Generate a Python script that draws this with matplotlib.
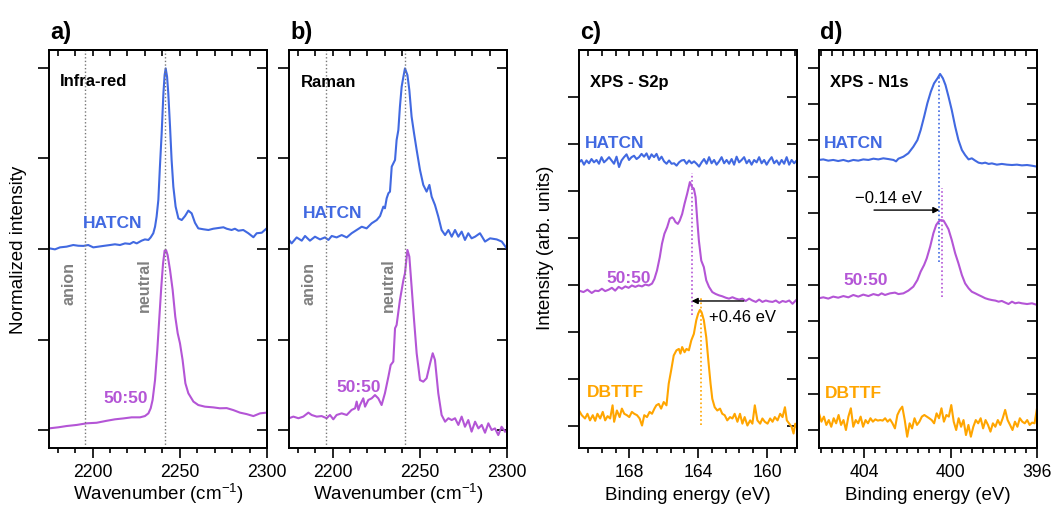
import numpy as np
import matplotlib
matplotlib.use("Agg")
import matplotlib.pyplot as plt
from matplotlib.ticker import MultipleLocator, FixedLocator

plt.rcParams['font.family'] = ['Liberation Sans', 'DejaVu Sans']
plt.rcParams['mathtext.fontset'] = 'custom'
plt.rcParams['mathtext.rm'] = 'Liberation Sans'
plt.rcParams['mathtext.it'] = 'Liberation Sans:italic'
plt.rcParams['axes.linewidth'] = 1.4

# ---------------- data ----------------
# a) Infra-red
ir_hatcn_x = [2175.0, 2178.4, 2181.3, 2185.1, 2188.9, 2191.8, 2194.7, 2197.5, 2200.4, 2203.3,
              2206.2, 2210.0, 2212.8, 2215.7, 2218.6, 2221.4, 2223.4, 2225.3, 2228.1, 2230.0,
              2232.0, 2233.3, 2234.8, 2235.8, 2236.7, 2237.7, 2238.6, 2239.6, 2240.6, 2241.3,
              2241.9, 2242.7, 2243.4, 2244.4, 2245.3, 2246.3, 2247.6, 2249.2, 2251.1, 2253.0,
              2254.9, 2256.8, 2258.7, 2260.6, 2263.5, 2266.4, 2269.2, 2272.1, 2275.0, 2276.9,
              2279.7, 2281.6, 2283.6, 2286.4, 2289.3, 2292.2, 2294.1, 2297.0, 2299.8]
ir_hatcn_y = [1.004, 0.998, 1.009, 1.013, 1.022, 1.018, 1.017, 1.022, 1.009, 1.013,
              1.017, 1.022, 1.026, 1.022, 1.031, 1.028, 1.039, 1.031, 1.046, 1.053,
              1.050, 1.064, 1.087, 1.123, 1.179, 1.271, 1.455, 1.639, 1.860, 1.961,
              1.998, 1.952, 1.860, 1.676, 1.492, 1.344, 1.234, 1.169, 1.160, 1.182,
              1.212, 1.197, 1.145, 1.114, 1.109, 1.105, 1.112, 1.116, 1.120, 1.112,
              1.105, 1.112, 1.101, 1.105, 1.087, 1.065, 1.087, 1.090, 1.114]
ir_mix_x = [2175.0, 2180.4, 2185.1, 2190.9, 2196.6, 2202.3, 2208.1, 2212.8, 2217.6, 2222.4,
            2227.2, 2230.0, 2232.0, 2233.3, 2234.4, 2235.8, 2237.1, 2238.3, 2239.4, 2240.4,
            2241.3, 2242.1, 2243.0, 2244.4, 2245.9, 2247.4, 2248.8, 2250.1, 2251.6, 2253.2,
            2254.9, 2257.8, 2260.6, 2264.4, 2269.2, 2273.0, 2276.9, 2280.7, 2284.5, 2288.3,
            2292.2, 2296.0, 2299.8]
ir_mix_y = [0.009, 0.015, 0.022, 0.028, 0.037, 0.040, 0.051, 0.059, 0.064, 0.070,
            0.070, 0.077, 0.092, 0.120, 0.166, 0.276, 0.442, 0.626, 0.792, 0.921,
            0.991, 0.994, 0.967, 0.884, 0.774, 0.626, 0.534, 0.479, 0.387, 0.258,
            0.203, 0.157, 0.138, 0.129, 0.125, 0.120, 0.121, 0.110, 0.096, 0.088,
            0.077, 0.092, 0.096]

# b) Raman
ra_hatcn_x = [2175.0, 2176.5, 2179.4, 2182.3, 2184.2, 2187.0, 2189.9, 2192.8, 2195.6, 2197.6,
              2199.5, 2202.3, 2205.2, 2208.1, 2210.9, 2213.8, 2216.7, 2219.5, 2222.4, 2225.3,
              2227.2, 2229.1, 2230.0, 2231.0, 2232.0, 2232.9, 2233.9, 2235.8, 2236.7, 2237.7,
              2238.6, 2239.6, 2240.6, 2241.5, 2242.9, 2244.0, 2245.3, 2246.7, 2248.2, 2250.1,
              2252.0, 2253.9, 2255.5, 2256.8, 2258.7, 2260.6, 2262.5, 2264.5, 2266.4, 2268.3,
              2270.2, 2272.1, 2274.0, 2275.9, 2277.8, 2279.7, 2281.7, 2284.5, 2287.4, 2290.3,
              2294.1, 2297.0, 2299.8]
ra_hatcn_y = [1.050, 1.031, 1.064, 1.046, 1.072, 1.046, 1.068, 1.053, 1.064, 1.050,
              1.072, 1.064, 1.077, 1.064, 1.087, 1.105, 1.123, 1.114, 1.142, 1.160,
              1.182, 1.234, 1.225, 1.280, 1.308, 1.317, 1.455, 1.492, 1.602, 1.657,
              1.786, 1.897, 1.952, 1.998, 1.961, 1.878, 1.731, 1.639, 1.547, 1.437,
              1.354, 1.317, 1.354, 1.289, 1.243, 1.179, 1.105, 1.077, 1.105, 1.068,
              1.105, 1.068, 1.096, 1.050, 1.087, 1.059, 1.068, 1.087, 1.041, 1.059,
              1.053, 1.041, 1.004]
ra_mix_x = [2175.0, 2177.5, 2180.4, 2183.2, 2186.1, 2188.0, 2190.9, 2193.7, 2196.6, 2198.5,
            2200.4, 2202.3, 2205.2, 2208.1, 2210.9, 2212.9, 2213.8, 2214.8, 2215.7, 2217.6,
            2218.6, 2220.5, 2222.4, 2224.3, 2226.2, 2228.1, 2230.0, 2232.0, 2233.3, 2234.8,
            2235.8, 2236.7, 2238.6, 2240.6, 2241.5, 2242.9, 2244.0, 2245.3, 2246.7, 2248.2,
            2250.1, 2252.0, 2253.9, 2255.9, 2257.4, 2258.7, 2260.6, 2262.5, 2264.5, 2266.4,
            2268.3, 2270.2, 2272.1, 2274.0, 2275.9, 2277.8, 2279.7, 2281.7, 2283.6, 2285.5,
            2287.4, 2289.3, 2291.2, 2293.1, 2295.0, 2296.9, 2298.9]
ra_mix_y = [0.065, 0.074, 0.065, 0.074, 0.096, 0.083, 0.074, 0.077, 0.065, 0.083,
            0.059, 0.083, 0.092, 0.083, 0.111, 0.120, 0.157, 0.111, 0.138, 0.175,
            0.129, 0.166, 0.175, 0.193, 0.175, 0.138, 0.203, 0.295, 0.359, 0.378,
            0.562, 0.580, 0.718, 0.829, 0.866, 0.995, 0.958, 0.792, 0.608, 0.424,
            0.276, 0.267, 0.286, 0.368, 0.424, 0.387, 0.203, 0.083, 0.046, 0.065,
            0.055, 0.065, 0.028, 0.074, 0.018, 0.055, -0.009, 0.046, 0.009, 0.028,
            -0.015, 0.037, 0.000, 0.009, -0.028, 0.018, -0.009]

# c) XPS S2p
s2p_hatcn_range = (170.92, 158.28)
s2p_hatcn_y = [5.61, 5.66, 5.56, 5.65, 5.59, 5.68, 5.61, 5.66, 5.58, 5.72,
               5.61, 5.66, 5.72, 5.65, 5.58, 5.73, 5.51, 5.65, 5.72, 5.78,
               5.66, 5.72, 5.75, 5.68, 5.72, 5.79, 5.73, 5.80, 5.68, 5.78,
               5.72, 5.79, 5.66, 5.73, 5.63, 5.58, 5.65, 5.58, 5.59, 5.54,
               5.61, 5.65, 5.66, 5.58, 5.65, 5.59, 5.63, 5.58, 5.52, 5.61,
               5.68, 5.58, 5.72, 5.59, 5.66, 5.56, 5.63, 5.72, 5.59, 5.66,
               5.58, 5.68, 5.56, 5.73, 5.61, 5.66, 5.72, 5.59, 5.66, 5.56,
               5.66, 5.61, 5.72, 5.59, 5.66, 5.56, 5.65, 5.72, 5.59, 5.65,
               5.56, 5.66, 5.58, 5.72, 5.56, 5.66, 5.59, 5.65]
s2p_mix_x = [170.92, 170.66, 170.43, 170.18, 169.98, 169.79, 169.59, 169.40, 169.20, 169.01,
             168.82, 168.62, 168.43, 168.23, 168.04, 167.85, 167.65, 167.46, 167.26, 167.07,
             166.87, 166.68, 166.54, 166.39, 166.23, 166.10, 165.96, 165.80, 165.65, 165.51,
             165.42, 165.32, 165.18, 165.07, 164.93, 164.79, 164.64, 164.48, 164.35, 164.25,
             164.15, 164.05, 163.96, 163.82, 163.67, 163.53, 163.37, 163.18, 162.99, 162.79,
             162.60, 162.40, 162.21, 162.01, 161.82, 161.62, 161.43, 161.24, 161.04, 160.85,
             160.65, 160.46, 160.27, 160.07, 159.88, 159.68, 159.49, 159.29, 159.10, 158.91,
             158.71, 158.52, 158.28]
s2p_mix_y = [2.88, 2.85, 2.90, 2.83, 2.88, 2.87, 2.92, 2.87, 2.90, 2.94,
             2.88, 2.96, 2.92, 2.97, 2.94, 2.99, 2.96, 2.99, 2.97, 3.01,
             2.99, 3.03, 3.13, 3.31, 3.59, 3.88, 4.09, 4.23, 4.41, 4.44,
             4.41, 4.34, 4.30, 4.37, 4.51, 4.73, 4.94, 5.19, 5.08, 5.05,
             4.87, 4.37, 3.95, 3.52, 3.38, 3.10, 2.96, 2.85, 2.81, 2.78,
             2.76, 2.73, 2.71, 2.74, 2.71, 2.69, 2.71, 2.66, 2.71, 2.67,
             2.64, 2.69, 2.64, 2.67, 2.65, 2.64, 2.67, 2.62, 2.66, 2.64,
             2.67, 2.60, 2.69]
s2p_dbttf_x = [170.92, 170.76, 170.57, 170.43, 170.28, 170.12, 169.98, 169.85, 169.69, 169.54,
               169.40, 169.26, 169.11, 168.97, 168.88, 168.72, 168.56, 168.43, 168.29, 168.14,
               168.00, 167.85, 167.71, 167.55, 167.40, 167.26, 167.13, 166.97, 166.82, 166.68,
               166.54, 166.43, 166.29, 166.15, 166.00, 165.84, 165.71, 165.57, 165.42, 165.26,
               165.12, 165.03, 164.93, 164.79, 164.68, 164.54, 164.40, 164.25, 164.11, 164.00,
               163.90, 163.80, 163.67, 163.53, 163.41, 163.28, 163.18, 163.04, 162.89, 162.73,
               162.60, 162.46, 162.31, 162.15, 162.01, 161.88, 161.72, 161.57, 161.43, 161.30,
               161.14, 160.98, 160.85, 160.71, 160.56, 160.40, 160.27, 160.13, 159.97, 159.82,
               159.68, 159.55, 159.39, 159.24, 159.10, 158.96, 158.85, 158.71, 158.57, 158.46,
               158.36, 158.28]
s2p_dbttf_y = [0.33, 0.23, 0.16, 0.26, 0.12, 0.23, 0.11, 0.26, 0.16, 0.30,
               0.12, 0.21, 0.16, 0.44, 0.09, 0.33, 0.19, 0.37, 0.26, 0.23,
               0.19, 0.30, 0.26, 0.23, 0.16, 0.01, 0.23, 0.19, 0.30, 0.26,
               0.37, 0.44, 0.47, 0.37, 0.51, 0.44, 0.90, 1.18, 1.50, 1.61,
               1.64, 1.54, 1.68, 1.57, 1.64, 1.61, 1.82, 1.96, 2.25, 2.39,
               2.47, 2.42, 2.25, 1.89, 1.40, 0.90, 0.58, 0.40, 0.33, 0.37,
               0.26, 0.23, 0.12, 0.19, 0.16, 0.26, 0.09, 0.26, 0.05, 0.19,
               0.01, 0.12, 0.05, 0.44, 0.12, 0.05, 0.16, 0.09, 0.05, 0.16,
               0.09, 0.19, 0.12, 0.26, 0.19, 0.40, 0.12, 0.05, -0.02, -0.16,
               0.05, -0.02]

# d) XPS N1s
n1s_hatcn_x = [406.10, 405.90, 405.67, 405.44, 405.21, 404.97, 404.74, 404.51, 404.28, 404.05,
               403.81, 403.58, 403.35, 403.12, 402.89, 402.65, 402.53, 402.42, 402.19, 401.96,
               401.73, 401.54, 401.39, 401.23, 401.08, 400.92, 400.77, 400.61, 400.49, 400.36,
               400.24, 400.10, 399.95, 399.79, 399.64, 399.48, 399.33, 399.17, 399.02, 398.86,
               398.71, 398.55, 398.40, 398.24, 398.09, 397.86, 397.63, 397.39, 397.16, 396.93,
               396.70, 396.46, 396.23, 396.00]
n1s_hatcn_y = [1.492, 1.495, 1.488, 1.492, 1.486, 1.492, 1.484, 1.492, 1.488, 1.495,
               1.492, 1.499, 1.495, 1.501, 1.497, 1.492, 1.484, 1.499, 1.510, 1.529,
               1.565, 1.602, 1.657, 1.731, 1.805, 1.869, 1.915, 1.943, 1.967, 1.943,
               1.906, 1.842, 1.768, 1.676, 1.602, 1.547, 1.519, 1.495, 1.501, 1.488,
               1.477, 1.473, 1.477, 1.470, 1.473, 1.466, 1.470, 1.466, 1.464, 1.466,
               1.462, 1.464, 1.460, 1.455]
n1s_mix_x = [406.10, 405.90, 405.67, 405.44, 405.21, 404.97, 404.74, 404.51, 404.28, 404.05,
             403.81, 403.58, 403.35, 403.20, 403.04, 402.81, 402.58, 402.42, 402.19, 401.96,
             401.73, 401.54, 401.39, 401.23, 401.11, 400.95, 400.80, 400.67, 400.56, 400.46,
             400.33, 400.21, 400.10, 399.95, 399.79, 399.64, 399.48, 399.33, 399.17, 399.02,
             398.86, 398.71, 398.55, 398.40, 398.24, 398.09, 397.93, 397.78, 397.63, 397.47,
             397.32, 397.16, 397.01, 396.85, 396.70, 396.46, 396.23, 396.00]
n1s_mix_y = [0.728, 0.733, 0.726, 0.737, 0.731, 0.740, 0.733, 0.746, 0.737, 0.748,
             0.740, 0.751, 0.744, 0.755, 0.746, 0.755, 0.759, 0.751, 0.755, 0.770,
             0.792, 0.829, 0.875, 0.912, 0.948, 1.013, 1.087, 1.133, 1.151, 1.160,
             1.157, 1.133, 1.109, 1.050, 0.976, 0.921, 0.856, 0.810, 0.783, 0.764,
             0.755, 0.746, 0.737, 0.728, 0.722, 0.718, 0.715, 0.709, 0.713, 0.704,
             0.696, 0.709, 0.700, 0.704, 0.700, 0.696, 0.700, 0.691]
n1s_dbttf_range = (406.10, 396.00)
n1s_dbttf_y = [0.092, 0.046, 0.074, 0.028, 0.055, 0.018, 0.065, 0.037, 0.083, 0.028,
               0.055, 0.000, 0.074, 0.120, 0.018, 0.055, 0.037, 0.074, 0.018, 0.055,
               0.037, 0.065, 0.046, 0.059, 0.052, 0.055, 0.052, 0.065, 0.046, 0.059,
               0.037, 0.009, 0.083, 0.111, 0.129, 0.055, -0.037, 0.037, 0.009, 0.065,
               0.028, 0.046, 0.074, 0.083, 0.074, 0.065, 0.055, 0.037, 0.092, 0.065,
               0.120, 0.046, 0.083, 0.074, 0.138, 0.046, 0.000, 0.065, 0.018, 0.055,
               -0.028, 0.028, -0.037, 0.018, 0.055, 0.037, 0.065, 0.009, 0.055, 0.028,
               -0.009, 0.037, 0.018, 0.055, 0.028, 0.065, 0.111, 0.055, 0.028, 0.000,
               0.046, 0.018, 0.065, 0.046, 0.037, 0.055, 0.028, 0.041, 0.037, 0.120]

# marker lines / shifts
ir_anion, ir_neutral = 2195.5, 2241.8
ra_anion, ra_neutral = 2196.0, 2241.3
s2p_mix_peak, s2p_dbttf_peak = 164.38, 163.86
n1s_hatcn_peak, n1s_mix_peak = 400.52, 400.38
s2p_shift_label = "+0.46 eV"
n1s_shift_label = "\u22120.14 eV"

# ---------------- style ----------------
BLUE = "#4169E1"
PURPLE = "#B455D6"
ORANGE = "#FFA500"
GRAY = "#808080"
LW = 1.5
TXT = 12.5

fig = plt.figure(figsize=(10.52, 5.05), dpi=100)
W, H = 1052, 505
lefts = [49, 289, 579, 819]
axw = 218
top_px, bot_px = 50, 448
axes = [fig.add_axes([l / W, 1 - bot_px / H, axw / W, (bot_px - top_px) / H]) for l in lefts]


def style(ax, major_x, minor_x, yticks):
    ax.xaxis.set_major_locator(FixedLocator(major_x))
    ax.xaxis.set_minor_locator(MultipleLocator(minor_x))
    ax.set_yticks(yticks)
    ax.set_yticklabels([])
    ax.tick_params(axis='x', which='major', direction='out', length=7.2, width=1.2,
                   labelsize=12.7, pad=4.5)
    ax.tick_params(axis='x', which='minor', direction='out', length=3.3, width=1.2)
    ax.tick_params(axis='y', which='major', direction='out', length=7.6, width=1.2)
    ax.tick_params(axis='y', which='minor', left=False)
    sx = ax.secondary_xaxis('top')
    sx.xaxis.set_major_locator(FixedLocator(major_x))
    sx.xaxis.set_minor_locator(MultipleLocator(minor_x))
    sx.tick_params(axis='x', which='both', direction='in', length=4.5, width=1.2,
                   labeltop=False)
    sx.spines['top'].set_linewidth(1.4)
    sy = ax.secondary_yaxis('right')
    sy.set_yticks(yticks)
    sy.tick_params(axis='y', which='major', direction='in', length=7.2, width=1.2,
                   labelright=False)
    sy.tick_params(axis='y', which='minor', right=False)
    sy.spines['right'].set_linewidth(1.4)


yl = (-0.0994, 2.0994)
ticks5 = [0, 0.5, 1.0, 1.5, 2.0]

# a)
ax = axes[0]
ax.plot(ir_hatcn_x, ir_hatcn_y, color=BLUE, lw=LW)
ax.plot(ir_mix_x, ir_mix_y, color=PURPLE, lw=LW)
for xv in (ir_anion, ir_neutral):
    ax.axvline(xv, color='#777777', lw=1.0, ls=(0, (1, 1.6)))
ax.set_xlim(2175, 2300)
ax.set_ylim(*yl)
style(ax, [2200, 2250, 2300], 10, ticks5)
ax.text(2181.3, 1.901, "Infra-red", fontsize=12, fontweight='bold', va='baseline')
ax.text(2194.3, 1.116, "HATCN", fontsize=TXT, fontweight='bold', color=BLUE, va='baseline')
ax.text(2206.1, 0.147, "50:50", fontsize=TXT, fontweight='bold', color=PURPLE, va='baseline')
ax.text(2186.2, 0.691, "anion", fontsize=11.5, fontweight='bold', color=GRAY,
        rotation=90, ha='center', va='bottom')
ax.text(2229.5, 0.652, "neutral", fontsize=11.5, fontweight='bold', color=GRAY,
        rotation=90, ha='center', va='bottom')

# b)
ax = axes[1]
ax.plot(ra_hatcn_x, ra_hatcn_y, color=BLUE, lw=LW)
ax.plot(ra_mix_x, ra_mix_y, color=PURPLE, lw=LW)
for xv in (ra_anion, ra_neutral):
    ax.axvline(xv, color='#777777', lw=1.0, ls=(0, (1, 1.6)))
ax.set_xlim(2175, 2300)
ax.set_ylim(*yl)
style(ax, [2200, 2250, 2300], 10, ticks5)
ax.text(2181.9, 1.895, "Raman", fontsize=12, fontweight='bold', va='baseline')
ax.text(2182.9, 1.171, "HATCN", fontsize=TXT, fontweight='bold', color=BLUE, va='baseline')
ax.text(2202.0, 0.212, "50:50", fontsize=TXT, fontweight='bold', color=PURPLE, va='baseline')
ax.text(2186.3, 0.691, "anion", fontsize=11.5, fontweight='bold', color=GRAY,
        rotation=90, ha='center', va='bottom')
ax.text(2232.0, 0.652, "neutral", fontsize=11.5, fontweight='bold', color=GRAY,
        rotation=90, ha='center', va='bottom')

# c)
ax = axes[2]
ax.plot(np.linspace(*s2p_hatcn_range, len(s2p_hatcn_y)), s2p_hatcn_y, color=BLUE, lw=LW)
ax.plot(s2p_mix_x, s2p_mix_y, color=PURPLE, lw=LW)
ax.plot(s2p_dbttf_x, s2p_dbttf_y, color=ORANGE, lw=LW)
ax.plot([s2p_mix_peak, s2p_mix_peak], [2.36, 5.38], color=PURPLE, lw=1.2, ls=(0, (1, 1.5)))
ax.plot([s2p_dbttf_peak, s2p_dbttf_peak], [0.02, 2.72], color=ORANGE, lw=1.2, ls=(0, (1, 1.5)))
ax.annotate("", xy=(s2p_mix_peak, 2.66), xytext=(161.35, 2.66),
            arrowprops=dict(arrowstyle='-|>', color='black', lw=1.0, shrinkA=0, shrinkB=0,
                            mutation_scale=9))
ax.text(163.38, 2.22, s2p_shift_label, fontsize=12, va='baseline')
ax.set_xlim(170.92, 158.26)
ax.set_ylim(-0.468, 8.0)
style(ax, [168, 164, 160], 0.8, list(range(8)))
ax.text(170.27, 7.21, "XPS - S2p", fontsize=12, fontweight='bold', va='baseline')
ax.text(170.57, 5.91, "HATCN", fontsize=TXT, fontweight='bold', color=BLUE, va='baseline')
ax.text(169.34, 3.04, "50:50", fontsize=TXT, fontweight='bold', color=PURPLE, va='baseline')
ax.text(170.47, 0.62, "DBTTF", fontsize=TXT, fontweight='bold', color=ORANGE, va='baseline')

# d)
ax = axes[3]
ax.plot(n1s_hatcn_x, n1s_hatcn_y, color=BLUE, lw=LW)
ax.plot(n1s_mix_x, n1s_mix_y, color=PURPLE, lw=LW)
ax.plot(np.linspace(*n1s_dbttf_range, len(n1s_dbttf_y)), n1s_dbttf_y, color=ORANGE, lw=LW)
ax.plot([n1s_hatcn_peak, n1s_hatcn_peak], [0.93, 1.96], color=BLUE, lw=1.2, ls=(0, (1, 1.5)))
ax.plot([n1s_mix_peak, n1s_mix_peak], [0.735, 1.337], color=PURPLE, lw=1.2, ls=(0, (1, 1.5)))
ax.annotate("", xy=(n1s_hatcn_peak, 1.215), xytext=(403.55, 1.215),
            arrowprops=dict(arrowstyle='-|>', color='black', lw=1.0, shrinkA=0, shrinkB=0,
                            mutation_scale=9))
ax.text(404.43, 1.252, n1s_shift_label, fontsize=12, va='baseline')
ax.set_xlim(406.1, 396.0)
ax.set_ylim(*yl)
style(ax, [404, 400, 396], 0.5, [round(0.2 * i, 1) for i in range(11)])
ax.text(405.59, 1.895, "XPS - N1s", fontsize=12, fontweight='bold', va='baseline')
ax.text(405.87, 1.556, "HATCN", fontsize=TXT, fontweight='bold', color=BLUE, va='baseline')
ax.text(404.98, 0.801, "50:50", fontsize=TXT, fontweight='bold', color=PURPLE, va='baseline')
ax.text(405.83, 0.175, "DBTTF", fontsize=TXT, fontweight='bold', color=ORANGE, va='baseline')

# panel letters
for l, lab in zip(lefts, ["a)", "b)", "c)", "d)"]):
    fig.text((l + 1) / W, 1 - 39 / H, lab, fontsize=17, fontweight='bold', va='baseline')

# axis labels
xl = ["Wavenumber (cm$^{-1}$)", "Wavenumber (cm$^{-1}$)", "Binding energy (eV)", "Binding energy (eV)"]
for l, lab in zip(lefts, xl):
    fig.text((l + axw / 2) / W, 1 - 500 / H, lab, fontsize=13.5, ha='center', va='baseline')
fig.text(18.5 / W, 1 - 250 / H, "Normalized intensity", fontsize=13.5, rotation=90,
         ha='center', va='center')
fig.text(546 / W, 1 - 248 / H, "Intensity (arb. units)", fontsize=13.5, rotation=90,
         ha='center', va='center')

fig.savefig("out.png", dpi=100)
